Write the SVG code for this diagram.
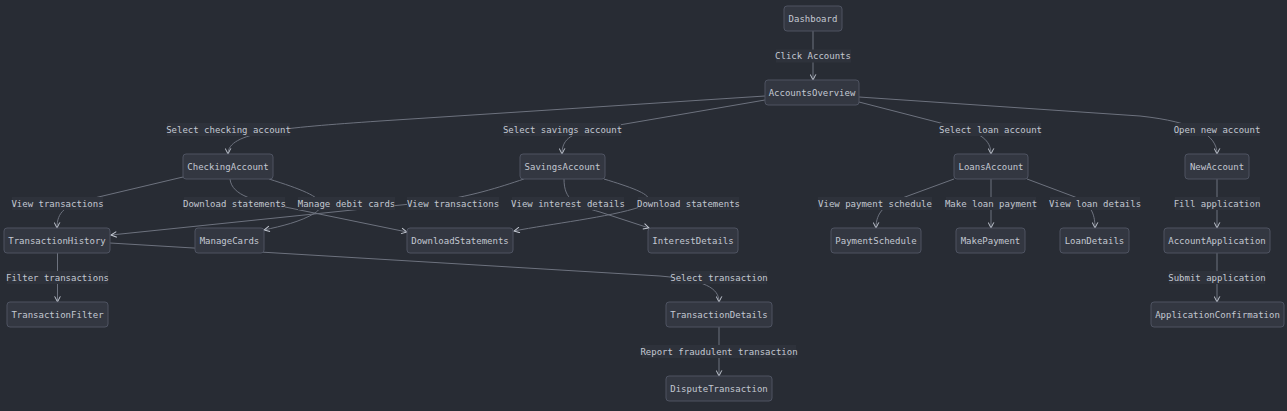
<svg xmlns="http://www.w3.org/2000/svg" width="1287" height="411" viewBox="0 0 1287 411">
<style>
.bg{fill:#282c34}
.node rect{fill:#333741;stroke:#4e5361;stroke-width:1}
text{font-family:"DejaVu Sans Mono","Liberation Mono",monospace;font-size:9px;fill:#c3c8d2;text-anchor:middle;dominant-baseline:central}
.edge path{fill:none;stroke:#6d727e;stroke-width:1;marker-end:url(#arr)}
.lbl rect{fill:#2e323b}
</style>
<defs>
<marker id="arr" viewBox="0 0 10 10" refX="9" refY="5" markerWidth="7" markerHeight="7" markerUnits="userSpaceOnUse" orient="auto">
<path d="M1,1 L9,5 L1,9" fill="none" stroke="#c3c8d2" stroke-width="1.4"/>
</marker>
</defs>
<rect class="bg" x="0" y="0" width="1287" height="411"/>
<g id="connectors" class="edge">
<path d="M813,31 L813,80"/>
<path d="M765,96 L380,121 C280,128 228,132 228,154"/>
<path d="M765,100 L590,130 C570,134 562,140 562,154"/>
<path d="M859,102 L960,128 C980,133 991,140 991,154"/>
<path d="M859,97 L1140,116 C1195,122 1217,135 1217,154"/>
<path d="M183,177 L90,199 C65,205 57,212 57,228"/>
<path d="M230,179 C232,196 255,201 290,208 L407,232"/>
<path d="M269,179 C310,192 332,201 315,213 C300,222 282,226 264,230"/>
<path d="M524,179 C500,187 470,197 430,202 L111,235"/>
<path d="M604,179 C640,190 662,198 640,207 C610,217 550,224 514,231"/>
<path d="M564,179 C564,200 575,205 600,212 L649,228"/>
<path d="M57.5,253 L57.5,302"/>
<path d="M110,243 L660,276 C705,280 719,288 719,302"/>
<path d="M719,327 L719,376"/>
<path d="M954,179 L905,197 C885,204 876,212 876,228"/>
<path d="M991,179 L991,228"/>
<path d="M1027,179 L1075,197 C1090,204 1095,212 1095,228"/>
<path d="M1217,179 L1217,228"/>
<path d="M1217,253 L1217,302"/>
</g>
<g id="edge-labels" class="lbl">
<rect x="776" y="49.5" width="75" height="13"/><text x="813" y="56">Click Accounts</text>
<rect x="167" y="123" width="123" height="13"/><text x="228.5" y="129.5">Select checking account</text>
<rect x="504" y="123" width="117" height="13"/><text x="562.5" y="129.5">Select savings account</text>
<rect x="940" y="123" width="101" height="13"/><text x="990.5" y="129.5">Select loan account</text>
<rect x="1175" y="123" width="85" height="13"/><text x="1217" y="129.5">Open new account</text>
<rect x="12" y="197" width="91" height="13"/><text x="57.5" y="203.5">View transactions</text>
<rect x="184" y="197" width="101" height="13"/><text x="234.5" y="203.5">Download statements</text>
<rect x="298" y="197" width="97" height="13"/><text x="346.5" y="203.5">Manage debit cards</text>
<rect x="407" y="197" width="92" height="13"/><text x="453" y="203.5">View transactions</text>
<rect x="512" y="197" width="112" height="13"/><text x="568" y="203.5">View interest details</text>
<rect x="638" y="197" width="101" height="13"/><text x="688.5" y="203.5">Download statements</text>
<rect x="818" y="197" width="114" height="13"/><text x="875" y="203.5">View payment schedule</text>
<rect x="946" y="197" width="90" height="13"/><text x="991" y="203.5">Make loan payment</text>
<rect x="1050" y="197" width="90" height="13"/><text x="1095" y="203.5">View loan details</text>
<rect x="1175" y="197" width="85" height="13"/><text x="1217" y="203.5">Fill application</text>
<rect x="7" y="271" width="101" height="13"/><text x="57.5" y="277.5">Filter transactions</text>
<rect x="671" y="271" width="96" height="13"/><text x="719" y="277.5">Select transaction</text>
<rect x="1169" y="271" width="96" height="13"/><text x="1217" y="277.5">Submit application</text>
<rect x="642" y="345" width="154" height="13"/><text x="719" y="351.5">Report fraudulent transaction</text>
</g>
<g id="Dashboard" class="node"><rect x="784" y="6" width="58" height="25" rx="3"/><text x="813" y="18.5">Dashboard</text></g>
<g id="AccountsOverview" class="node"><rect x="765" y="80" width="94" height="25" rx="3"/><text x="812" y="92.5">AccountsOverview</text></g>
<g id="CheckingAccount" class="node"><rect x="183" y="154" width="90" height="25" rx="3"/><text x="228" y="166.5">CheckingAccount</text></g>
<g id="SavingsAccount" class="node"><rect x="520" y="154" width="85" height="25" rx="3"/><text x="562.5" y="166.5">SavingsAccount</text></g>
<g id="LoansAccount" class="node"><rect x="954" y="154" width="74" height="25" rx="3"/><text x="991" y="166.5">LoansAccount</text></g>
<g id="NewAccount" class="node"><rect x="1185" y="154" width="64" height="25" rx="3"/><text x="1217" y="166.5">NewAccount</text></g>
<g id="TransactionHistory" class="node"><rect x="4" y="228" width="106" height="25" rx="3"/><text x="57" y="240.5">TransactionHistory</text></g>
<g id="ManageCards" class="node"><rect x="195" y="228" width="69" height="25" rx="3"/><text x="229.5" y="240.5">ManageCards</text></g>
<g id="DownloadStatements" class="node"><rect x="407" y="228" width="106" height="25" rx="3"/><text x="460" y="240.5">DownloadStatements</text></g>
<g id="InterestDetails" class="node"><rect x="648" y="228" width="90" height="25" rx="3"/><text x="693" y="240.5">InterestDetails</text></g>
<g id="PaymentSchedule" class="node"><rect x="831" y="228" width="90" height="25" rx="3"/><text x="876" y="240.5">PaymentSchedule</text></g>
<g id="MakePayment" class="node"><rect x="956" y="228" width="69" height="25" rx="3"/><text x="990.5" y="240.5">MakePayment</text></g>
<g id="LoanDetails" class="node"><rect x="1060" y="228" width="69" height="25" rx="3"/><text x="1094.5" y="240.5">LoanDetails</text></g>
<g id="AccountApplication" class="node"><rect x="1164" y="228" width="106" height="25" rx="3"/><text x="1217" y="240.5">AccountApplication</text></g>
<g id="TransactionFilter" class="node"><rect x="7" y="302" width="101" height="25" rx="3"/><text x="57.5" y="314.5">TransactionFilter</text></g>
<g id="TransactionDetails" class="node"><rect x="666" y="302" width="106" height="25" rx="3"/><text x="719" y="314.5">TransactionDetails</text></g>
<g id="DisputeTransaction" class="node"><rect x="666" y="376" width="106" height="25" rx="3"/><text x="719" y="388.5">DisputeTransaction</text></g>
<g id="ApplicationConfirmation" class="node"><rect x="1151" y="302" width="133" height="25" rx="3"/><text x="1217.5" y="314.5">ApplicationConfirmation</text></g>
</svg>
